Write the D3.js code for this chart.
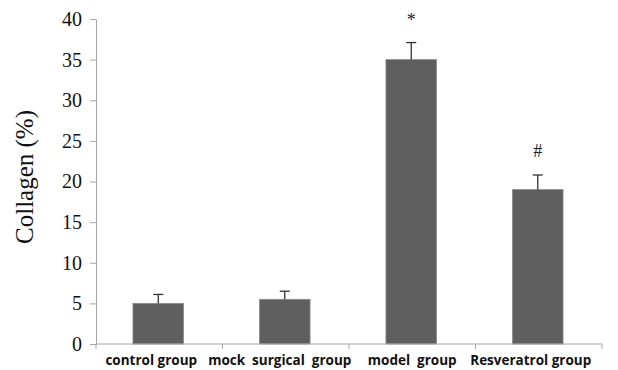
<!DOCTYPE html>
<html><head><meta charset="utf-8">
<script src="https://cdn.jsdelivr.net/npm/d3@7"></script>
<style>body{margin:0;background:#fff}
.serif{font-family:"Liberation Serif","Times New Roman",serif !important}
</style>
</head><body>
<svg id="c" width="618" height="370"></svg>
<script>
const categories = ["control group", "mock  surgical  group", "model  group", "Resveratrol group"];
const values = [5.0, 5.5, 35.0, 19.0];
const errors = [1.1, 1.0, 2.1, 1.8];
const marks = ["", "", "*", "#"];
const yTicks = [0, 5, 10, 15, 20, 25, 30, 35, 40];

const svg = d3.select("#c");
const m = {l: 96, r: 16, t: 19, b: 26};
const x = d3.scaleBand().domain(categories).range([m.l, 602]).paddingInner(0.6).paddingOuter(0.3);
const xb = d3.scaleBand().domain(categories).range([m.l, 602]);
const y = d3.scaleLinear().domain([0, 40]).range([344, 19]);

// bars
svg.selectAll("rect.bar").data(values).enter().append("rect")
  .attr("x", (d, i) => x(categories[i]) - 1)
  .attr("width", x.bandwidth())
  .attr("y", d => y(d))
  .attr("height", d => y(0) - y(d))
  .attr("fill", "#5f5f5f").attr("stroke", "#8a8a8a").attr("stroke-width", 0.8);

// error bars
const eg = svg.append("g").attr("stroke", "#333").attr("stroke-width", 1.3);
values.forEach((v, i) => {
  const cx = x(categories[i]) - 1 + x.bandwidth() / 2;
  eg.append("line").attr("x1", cx).attr("x2", cx).attr("y1", y(v)).attr("y2", y(v + errors[i]));
  eg.append("line").attr("x1", cx - 5).attr("x2", cx + 5).attr("y1", y(v + errors[i])).attr("y2", y(v + errors[i]));
});

// significance marks
svg.selectAll("text.mark").data(marks).enter().append("text")
  .attr("class", "serif")
  .attr("x", (d, i) => x(categories[i]) - 1 + x.bandwidth() / 2)
  .attr("y", (d, i) => y(values[i] + errors[i]) - (d === "*" ? 17 : 18))
  .attr("text-anchor", "middle")
  .style("font-size", "18px")
  .attr("fill", "#222")
  .text(d => d);

// y axis
const ya = svg.append("g").attr("transform", `translate(${m.l},0)`)
  .call(d3.axisLeft(y).tickValues(yTicks).tickSize(6).tickSizeOuter(0).tickPadding(8));
ya.attr("font-family", null).attr("font-size", null);
ya.select(".domain").attr("stroke", "#a6a6a6");
ya.selectAll(".tick line").attr("stroke", "#a6a6a6");
ya.selectAll(".tick text").attr("class", "serif")
  .style("font-size", "20px").attr("fill", "#111");

// x axis
const xa = svg.append("g").attr("transform", `translate(0,${y(0)})`)
  .call(d3.axisBottom(xb).tickSize(0).tickFormat(""));
xa.select(".domain").attr("stroke", "#a6a6a6").attr("d", `M${m.l},0H602`);
xa.selectAll(".tick").remove();
const bounds = categories.map(c => xb(c)).concat([602]);
xa.selectAll("line.sep").data(bounds).enter().append("line")
  .attr("x1", d => d).attr("x2", d => d).attr("y1", 0).attr("y2", 5)
  .attr("stroke", "#a6a6a6");

svg.selectAll("text.xl").data(categories).enter().append("text")
  .attr("x", (d, i) => xb(d) + xb.bandwidth() / 2 + [-8, -6, 0, -8][i])
  .attr("y", 365)
  .attr("text-anchor", "middle")
  .style("font-family", "'Open Sans', sans-serif")
  .style("font-weight", "bold")
  .style("font-size", "13.5px")
  .attr("fill", "#111")
  .style("white-space", "pre")
  .text(d => d);

// y label
svg.append("text").attr("class", "serif")
  .attr("transform", "translate(33,177) rotate(-90)")
  .attr("text-anchor", "middle")
  .style("font-size", "25px")
  .attr("fill", "#111")
  .text("Collagen (%)");
</script>
</body></html>
